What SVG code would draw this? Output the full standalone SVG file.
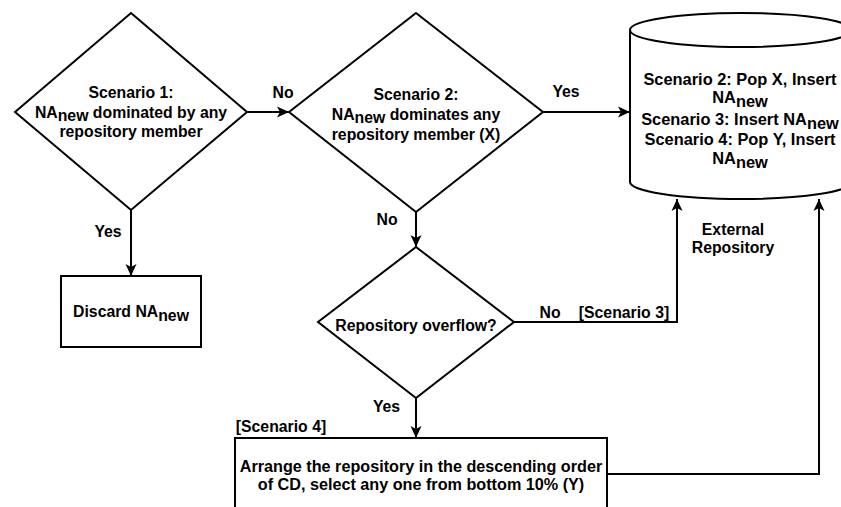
<svg xmlns="http://www.w3.org/2000/svg" width="841" height="507" viewBox="0 0 841 507">
<defs>
<marker id="arr" markerUnits="userSpaceOnUse" markerWidth="14" markerHeight="14" viewBox="0 0 14 14" refX="13" refY="7" orient="auto">
<path d="M1,1.5 L13,7 L1,12.5 L4,7 Z" fill="#000"/>
</marker>
</defs>
<style>
.s{fill:#fff;stroke:#000;stroke-width:2}
.t{font-family:"Liberation Sans",Arial,sans-serif;font-weight:bold;font-size:15.8px;fill:#000;text-anchor:middle}
.cy{font-size:16.4px}
.bx{font-size:16.2px}
.c{fill:none;stroke:#000;stroke-width:2}
</style>
<rect width="841" height="507" fill="#fff"/>
<g id="connectors">
<line class="c" x1="247" y1="112" x2="289" y2="112" marker-end="url(#arr)"/>
<line class="c" x1="543" y1="112" x2="630" y2="112" marker-end="url(#arr)"/>
<line class="c" x1="131" y1="210" x2="131" y2="276" marker-end="url(#arr)"/>
<line class="c" x1="416" y1="212" x2="416" y2="247" marker-end="url(#arr)"/>
<polyline class="c" points="514,322 677,322 677,199" marker-end="url(#arr)"/>
<line class="c" x1="416" y1="398" x2="416" y2="438" marker-end="url(#arr)"/>
<polyline class="c" points="607,474 819,474 819,199" marker-end="url(#arr)"/>
<text class="t" x="283" y="98">No</text>
<text class="t" x="566" y="97">Yes</text>
<text class="t" x="108" y="237">Yes</text>
<text class="t" x="387" y="225">No</text>
<text class="t" x="550" y="318">No</text>
<text class="t" x="624" y="318">[Scenario 3]</text>
<text class="t" x="386.5" y="412">Yes</text>
<text class="t" x="281" y="432">[Scenario 4]</text>
<text class="t" x="733" y="235">External</text>
<text class="t" x="733" y="253">Repository</text>
</g>
<g id="scenario1">
<polygon class="s" points="131,13 247,112 131,210 15,112"/>
<text class="t" x="131" y="98">Scenario 1:</text>
<text class="t" x="131" y="118">NA<tspan dy="3">new</tspan><tspan dy="-3"> dominated by any</tspan></text>
<text class="t" x="131" y="137">repository member</text>
</g>
<g id="scenario2">
<polygon class="s" points="416,13 543,112 416,212 289,112"/>
<text class="t" x="416" y="100">Scenario 2:</text>
<text class="t" x="416" y="120">NA<tspan dy="3">new</tspan><tspan dy="-3"> dominates any</tspan></text>
<text class="t" x="416" y="140">repository member (X)</text>
</g>
<g id="repository">
<path class="s" d="M630,30 A111,17 0 0 1 852,30 L852,182 A111,17 0 0 1 630,182 Z"/>
<path class="c" d="M630,30 A111,17 0 0 0 852,30"/>
<text class="t cy" x="740" y="85">Scenario 2: Pop X, Insert</text>
<text class="t cy" x="740" y="103">NA<tspan dy="4">new</tspan></text>
<text class="t cy" x="740" y="125">Scenario 3: Insert NA<tspan dy="4">new</tspan></text>
<text class="t cy" x="740" y="145">Scenario 4: Pop Y, Insert</text>
<text class="t cy" x="740" y="164">NA<tspan dy="4">new</tspan></text>
</g>
<g id="discard">
<rect class="s" x="61" y="276" width="140" height="71"/>
<text class="t" x="131" y="317">Discard NA<tspan dy="4">new</tspan></text>
</g>
<g id="overflow">
<polygon class="s" points="416,247 514,322 416,398 318,322"/>
<text class="t" x="416" y="331">Repository overflow?</text>
</g>
<g id="arrange">
<rect class="s" x="235" y="438" width="372" height="90"/>
<text class="t bx" x="421" y="472">Arrange the repository in the descending order</text>
<text class="t bx" x="421" y="490">of CD, select any one from bottom 10% (Y)</text>
</g>
</svg>
